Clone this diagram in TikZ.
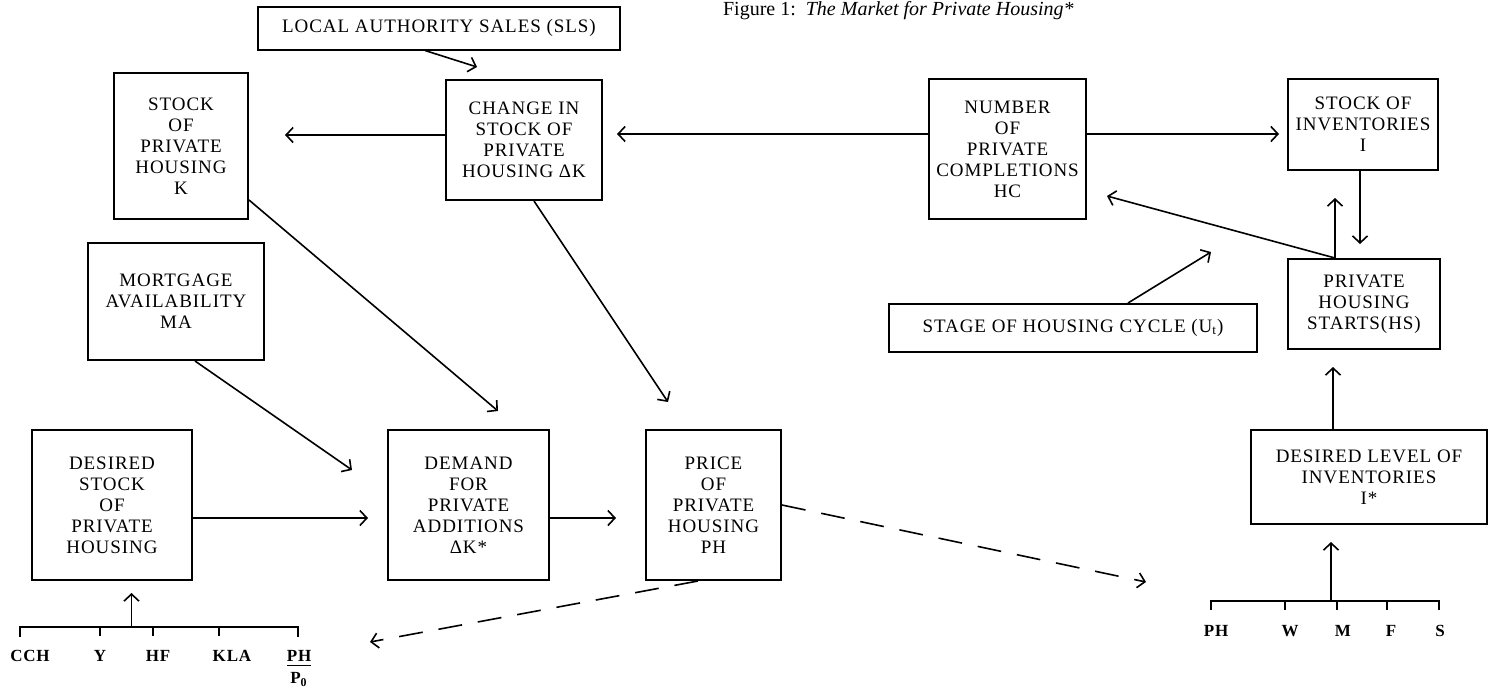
\documentclass[tikz,border=0pt]{standalone}
\usepackage{fontspec}
\setmainfont{Liberation Serif}[LetterSpace=5]
\usetikzlibrary{arrows.meta}

\begin{document}
\begin{tikzpicture}[x=0.5pt, y=-0.5pt, >={Straight Barb[length=3.5pt,width=7.5pt]},
  box/.style={draw, line width=1pt, align=center, inner sep=0pt, font=\fontsize{9.5}{10.5}\selectfont},
  lbl/.style={anchor=base, font=\fontsize{8.5}{10}\selectfont\bfseries},
  link/.style={->, line width=0.8pt},
  dashlink/.style={->, line width=0.8pt, dash pattern=on 12pt off 8pt}]

\useasboundingbox (0,0) rectangle (1488,697);

% title at the top edge
\node[anchor=base west, font=\fontsize{10}{12}\selectfont\addfontfeature{LetterSpace=0}] (title) at (716,15) {Figure 1:\ \ \textit{The Market for Private Housing*}};

% boxes on the left: stock, sales, mortgages, demand, price
\node[box, minimum width=181pt, minimum height=21.5pt] (sls) at (439,28) {LOCAL AUTHORITY SALES (SLS)};
\node[box, minimum width=67pt, minimum height=73pt] (stockk) at (181,146) {STOCK\\OF\\PRIVATE\\HOUSING\\K};
\node[box, minimum width=78pt, minimum height=60pt] (change) at (524,140) {CHANGE IN\\STOCK OF\\PRIVATE\\HOUSING ΔK};
\node[box, minimum width=88pt, minimum height=58.5pt] (mort) at (176,301.5) {MORTGAGE\\AVAILABILITY\\MA};
\node[box, minimum width=80pt, minimum height=75pt] (desired) at (112,505) {DESIRED\\STOCK\\OF\\PRIVATE\\HOUSING};
\node[box, minimum width=80.5pt, minimum height=75pt] (demand) at (468.5,505) {DEMAND\\FOR\\PRIVATE\\ADDITIONS\\ΔK*};
\node[box, minimum width=67.5pt, minimum height=75pt] (price) at (713.5,505) {PRICE\\OF\\PRIVATE\\HOUSING\\PH};

% boxes on the right: completions, inventories, starts
\node[box, minimum width=78.5pt, minimum height=70pt] (hc) at (1007.5,149) {NUMBER\\OF\\PRIVATE\\COMPLETIONS\\HC};
\node[box, minimum width=75pt, minimum height=45.5pt] (inv) at (1363,124.5) {STOCK OF\\INVENTORIES\\I};
\node[box, minimum width=76pt, minimum height=45pt] (hs) at (1364,304) {PRIVATE\\HOUSING\\STARTS(HS)};
\node[box, minimum width=184pt, minimum height=24pt] (stage) at (1073,328) {STAGE OF HOUSING CYCLE (U\textsubscript{t})};
\node[box, minimum width=118pt, minimum height=47pt] (dlevel) at (1369,477) {DESIRED LEVEL OF\\INVENTORIES\\I*};

% free arrow ends
\coordinate (slstip) at (477,67);
\coordinate (kend) at (285,135);
\coordinate (dkend) at (617,134);
\coordinate (invin) at (1279,134);
\coordinate (dmdtip) at (498,411);
\coordinate (prctip) at (668,402);
\coordinate (morttip) at (352,470);
\coordinate (dsin) at (368,518);
\coordinate (prin) at (616,518);
\coordinate (dashl) at (370,642);
\coordinate (dashr) at (1146,582);
\coordinate (hstip) at (1360,244);
\coordinate (invtip) at (1335,198);
\coordinate (hctip) at (1107,196);
\coordinate (stagetip) at (1211,252);
\coordinate (dltip) at (1333,367);

% arrows between the boxes
\draw[link] ([xshift=-7pt]sls.south) -- (slstip);
\draw[link] (kend -| change.west) -- (kend);
\draw[link] (dkend -| hc.west) -- (dkend);
\draw[link] (invin -| hc.east) -- (invin);
\draw[link] ([yshift=-27pt]stockk.east) -- (dmdtip);
\draw[link] ([xshift=5pt]change.south) -- (prctip);
\draw[link] ([xshift=9.5pt]mort.south) -- (morttip);
\draw[link] (dsin -| desired.east) -- (dsin);
\draw[link] (prin -| demand.east) -- (prin);
\draw[dashlink] ([xshift=-7.75pt]price.south) -- (dashl);
\draw[dashlink] (price.east) -- (dashr);
\draw[link] ([xshift=-1.5pt]inv.south) -- (hstip);
\draw[link] ([xshift=-14.5pt]hs.north) -- (invtip);
\draw[link] ([xshift=-14.5pt]hs.north) -- (hctip);
\draw[link] ([xshift=27.5pt]stage.north) -- (stagetip);
\draw[link] ([xshift=-18pt]dlevel.north) -- (dltip);

% determinants of the desired stock
\draw[line width=0.8pt] (20,637) -- (20,627) -- (298,627) -- (298,637);
\foreach \xx in {100,153,219}
  \draw[line width=0.8pt] (\xx,627) -- (\xx,636);
\coordinate (lbr) at (131.5,627);
\draw[link] (lbr) -- (lbr |- 0,593);
\node[lbl] (cch) at (30,661) {CCH};
\node[lbl] (y) at (100,661) {Y};
\node[lbl] (hf) at (158,661) {HF};
\node[lbl] (kla) at (232,661) {KLA};
\node[lbl] (php) at (299,661) {\begin{tabular}[t]{@{}c@{}}PH\\[-1pt]\hline\rule{0pt}{9pt}P$_{\mathbf{0}}$\end{tabular}};

% determinants of the desired inventories
\draw[line width=0.8pt] (1211,610) -- (1211,601) -- (1439,601) -- (1439,610);
\foreach \xx in {1285,1337,1387}
  \draw[line width=0.8pt] (\xx,601) -- (\xx,610);
\coordinate (rbr) at (1331,601);
\draw[link] (rbr) -- (rbr |- 0,542);
\node[lbl] (phr) at (1216,636) {PH};
\node[lbl] (w) at (1290,636) {W};
\node[lbl] (m) at (1343,636) {M};
\node[lbl] (f) at (1391,636) {F};
\node[lbl] (s) at (1440,636) {S};

\end{tikzpicture}
\end{document}
